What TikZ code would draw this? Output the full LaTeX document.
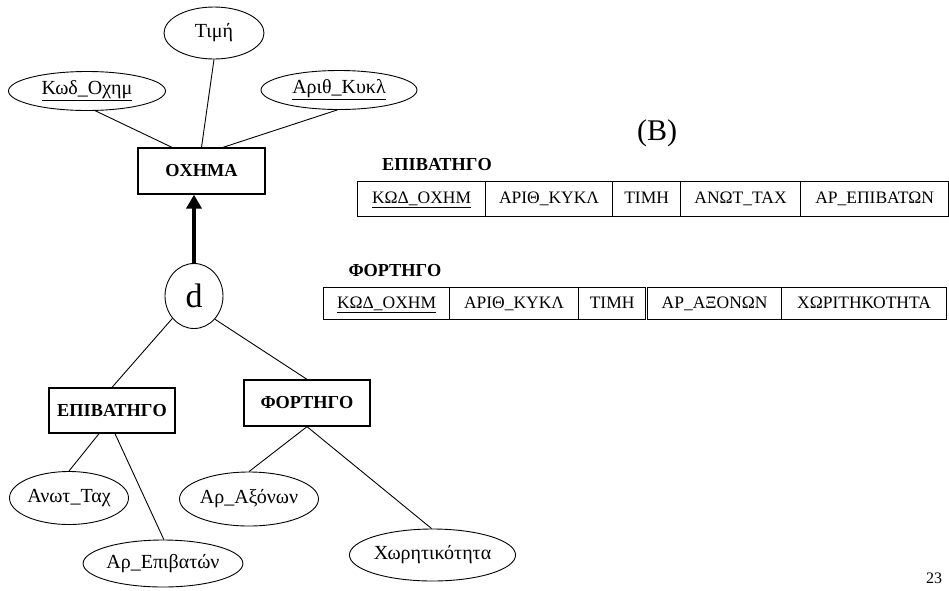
\documentclass[tikz,border=0pt]{standalone}
\usepackage{fontspec}
\setmainfont{Liberation Serif}
\usetikzlibrary{shapes.geometric,arrows.meta}
\newcommand{\attrfont}{\fontsize{20}{22}\selectfont}
\newcommand{\entfont}{\fontsize{18.3}{21}\selectfont\bfseries}
\newcommand{\cellfont}{\fontsize{17.5}{21}\selectfont}
\tikzset{
  attr/.style={ellipse, draw, line width=0.9pt, inner sep=0pt, font=\attrfont},
  entity/.style={rectangle, draw, line width=1.3pt, inner sep=0pt, font=\entfont},
  cell/.style={rectangle, draw, line width=1.2pt, inner sep=0pt, anchor=north west,
    font=\cellfont, text height=12.5pt, text depth=3.5pt},
  link/.style={line width=0.9pt},
  isa/.style={line width=3.5pt, -{Triangle[width=15pt,length=14pt]}}
}
\begin{document}
\begin{tikzpicture}[x=1pt,y=-1pt]
\useasboundingbox (0,0) rectangle (949,590);

% ER diagram: superclass, attributes and disjoint specialization
\node[entity, minimum width=127pt, minimum height=46pt] (oxima) at (201.5,171) {ΟΧΗΜΑ};
\node[attr, minimum width=100pt, minimum height=52pt] (timi) at (214,33) {Τιμή};
\node[attr, minimum width=157pt, minimum height=39pt] (kod) at (87,91) {\underline{Κωδ\_Οχημ}};
\node[attr, minimum width=156pt, minimum height=39pt] (arith) at (339,90) {\underline{Αριθ\_Κυκλ}};
\node[attr, minimum width=58pt, minimum height=65pt, font=\fontsize{34}{38}\selectfont] (d) at (194,296) {d};

\node[entity, minimum width=126pt, minimum height=45pt] (epiv) at (112,410.5) {ΕΠΙΒΑΤΗΓΟ};
\node[entity, minimum width=126pt, minimum height=46pt] (fort) at (307,403) {ΦΟΡΤΗΓΟ};

\node[attr, minimum width=119pt, minimum height=53pt] (anot) at (69,498) {Ανωτ\_Ταχ};
\node[attr, minimum width=154pt, minimum height=47pt] (arepiv) at (163,563.5) {Αρ\_Επιβατών};
\node[attr, minimum width=119pt, minimum height=54pt] (araxon) at (249,499) {Αρ\_Αξόνων};
\node[attr, minimum width=155pt, minimum height=52pt] (xor) at (432.5,555) {Χωρητικότητα};

\draw[link] (kod.-67) -- ([xshift=-29.5pt]oxima.north);
\draw[link] (timi.south) -- (oxima.north);
\draw[link] (arith.-95) -- ([xshift=21.5pt]oxima.north);
\draw[isa] (d.north) -- (d.north |- oxima.south);
\draw[link] (d.-134) -- (epiv.north);
\draw[link] (d.-48) -- (fort.north);
\draw[link] ([xshift=-13pt]epiv.south) -- (anot.north);
\draw[link] ([xshift=3pt]epiv.south) -- (arepiv.88);
\draw[link] (fort.south) -- (araxon.north);
\draw[link] (fort.south) -- (xor.92);

% Relational schema (B)
\node[font=\fontsize{30}{34}\selectfont] (blabel) at (657,133) {(B)};

\node[font=\entfont] (tepiv) at (437,164.5) {ΕΠΙΒΑΤΗΓΟ};
\node[cell, minimum width=128pt, minimum height=35pt] (e1) at (357,181) {\underline{ΚΩΔ\_ΟΧΗΜ}};
\node[cell, minimum width=127pt, minimum height=35pt] (e2) at (485,181) {ΑΡΙΘ\_ΚΥΚΛ};
\node[cell, minimum width=68pt, minimum height=35pt] (e3) at (612,181) {ΤΙΜΗ};
\node[cell, minimum width=120pt, minimum height=35pt] (e4) at (680,181) {ΑΝΩΤ\_ΤΑΧ};
\node[cell, minimum width=148pt, minimum height=35pt] (e5) at (800,181) {ΑΡ\_ΕΠΙΒΑΤΩΝ};

\node[font=\entfont] (tfort) at (395,271) {ΦΟΡΤΗΓΟ};
\node[cell, minimum width=126pt, minimum height=32pt] (f1) at (323,287) {\underline{ΚΩΔ\_ΟΧΗΜ}};
\node[cell, minimum width=129pt, minimum height=32pt] (f2) at (449,287) {ΑΡΙΘ\_ΚΥΚΛ};
\node[cell, minimum width=67pt, minimum height=32pt] (f3) at (578,287) {ΤΙΜΗ};
\node[cell, minimum width=134pt, minimum height=32pt] (f4) at (647,287) {ΑΡ\_ΑΞΟΝΩΝ};
\node[cell, minimum width=165pt, minimum height=32pt] (f5) at (781,287) {ΧΩΡΙΤΗΚΟΤΗΤΑ};

% page number
\node[font=\fontsize{16}{19}\selectfont] (page) at (934,578) {23};
\end{tikzpicture}
\end{document}
